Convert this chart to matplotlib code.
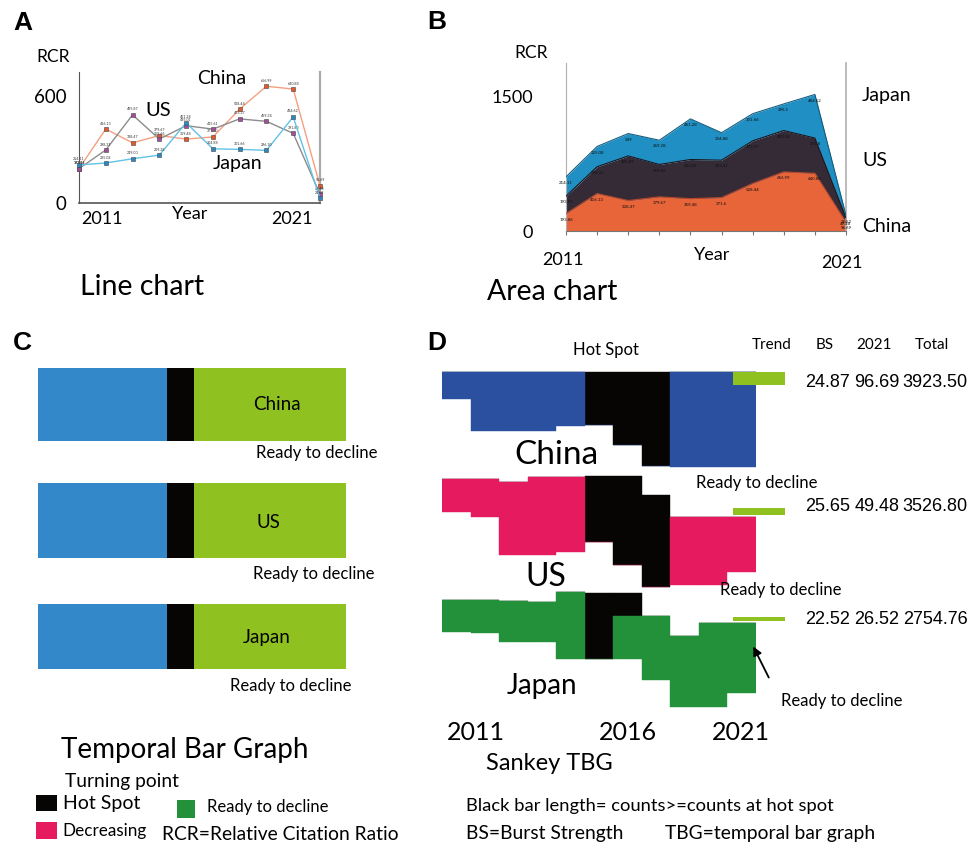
import matplotlib
matplotlib.use("Agg")
import matplotlib.pyplot as plt
from matplotlib.patches import Rectangle, FancyArrowPatch
import numpy as np

# ---------------------------------------------------------------- data
points = np.arange(10)                      # yearly observations, 2011 -> 2021
rcr_china = [193.86, 416.13, 338.47, 379.67, 359.48, 371.60, 528.44, 656.99, 640.88, 96.69]
rcr_us = [193.51, 298.31, 495.87, 359.66, 435.01, 415.61, 473.37, 459.34, 391.80, 49.48]
rcr_japan = [214.11, 225.08, 249.00, 269.28, 451.28, 304.88, 301.66, 296.10, 484.62, 26.52]

countries = ["China", "US", "Japan"]
burst_strength = [24.87, 25.65, 22.52]
rcr_2021 = [96.69, 49.48, 26.52]
rcr_total = [3923.50, 3526.80, 2754.76]

# temporal bar graph: years before hot spot, hot spot, after hot spot
tbg_before = [4.91, 4.91, 4.91]
tbg_hot = [1.0, 1.0, 1.0]
tbg_after = [5.76, 5.76, 5.76]

# Sankey TBG flows per year (upper edge, end of hot-spot part, lower edge)
sankey_years = np.arange(2011, 2022)
china_upper = [12, 12, 12, 12, 12, 12, 12, 12, 12, 12, 12]
china_hot_to = [12, 12, 12, 12, 12, 65, 85, 106, 12, 12, 12]
china_lower = [39, 71, 71, 71, 66, 65, 85, 106, 107, 107, 107]
us_upper = [119, 119, 122, 117, 117, 116, 116, 135, 157, 157, 157]
us_hot_to = [119, 119, 122, 117, 117, 182, 205, 227, 157, 157, 157]
us_lower = [152, 157, 195, 195, 192, 182, 205, 227, 225, 225, 212]
japan_upper = [240, 240, 241, 242, 232, 233, 233, 256, 276, 263, 263]
japan_hot_to = [240, 240, 241, 242, 232, 299, 256, 256, 276, 263, 263]
japan_lower = [272, 273, 282, 282, 299, 299, 299, 320, 347, 347, 333]
trend_top = [12, 148, 257]

# ---------------------------------------------------------------- figure
W, H = 974, 850
fig = plt.figure(figsize=(W / 100, H / 100), dpi=100)
plt.rcParams['font.family'] = ['Lato', 'DejaVu Sans']

C_ORANGE = '#e8653a'
C_DARK = '#352b36'
C_BLUE = '#1f8fc4'
C_TBG_BLUE = '#3288c8'
C_TBG_GREEN = '#8fc220'
C_BLACK = '#070404'
C_CHINA = '#2c50a0'
C_US = '#e61a5f'
C_JAPAN = '#22913a'


def box(x0, y0, x1, y1):
    return fig.add_axes([x0 / W, 1 - y1 / H, (x1 - x0) / W, (y1 - y0) / H])


def txt(x, y, s, size=11, ha='center', va='center', **kw):
    fig.text(x / W, 1 - y / H, s, fontsize=size, ha=ha, va=va, **kw)


def letter(x, y, s):
    txt(x, y, s, size=19, weight='bold', family=['Liberation Sans', 'DejaVu Sans'])


# ---------------------------------------------------------------- A: line chart
axA = box(79, 72, 320, 203)
axA.set_xlim(0, 9)
axA.set_ylim(0, 737)
line_styles = [(rcr_china, '#f4a080', '#e2582a'),
               (rcr_us, '#8c8c8c', '#a54d9c'),
               (rcr_japan, '#62c2e6', '#2a89c1')]
for vals, lc, mc in line_styles:
    axA.plot(points, vals, color=lc, lw=1.0, marker='s', ms=3.5,
             mfc=mc, mec='#444444', mew=0.4, clip_on=False, zorder=3)
    for xv, v in zip(points, vals):
        axA.annotate(f'{v:.2f}', (xv, v), xytext=(0, 2.5), textcoords='offset points',
                     fontsize=2.6, ha='center', va='bottom', color='#333333')
axA.spines['top'].set_visible(False)
axA.spines['left'].set_color('#555555')
axA.spines['left'].set_linewidth(0.8)
axA.spines['bottom'].set_color('#555555')
axA.spines['bottom'].set_linewidth(1.2)
axA.spines['right'].set_color('#aaaaaa')
axA.spines['right'].set_linewidth(1.6)
axA.set_yticks([0, 600])
axA.set_yticklabels(['0', '600'], fontsize=13.5)
axA.tick_params(axis='y', length=0, pad=9)
axA.set_xticks([0.86, 7.95])
axA.set_xticklabels(['2011', '2021'], fontsize=13)
axA.tick_params(axis='x', length=0, pad=6)

txt(53, 57, 'RCR', size=12.5)
txt(222, 78, 'China', size=14)
txt(158, 110, 'US', size=14.5)
txt(238, 163, 'Japan', size=14)
txt(190, 214, 'Year', size=13)
txt(80, 287, 'Line chart', size=20.5, ha='left')
letter(23, 23, 'A')

# ---------------------------------------------------------------- B: area chart
axB = box(566, 63, 846, 231)
axB.set_xlim(0, 9)
axB.set_ylim(0, 1867)
base = np.zeros(len(points))
for vals, fc, ec in [(rcr_china, C_ORANGE, '#b9482a'),
                     (rcr_us, C_DARK, '#1c161d'),
                     (rcr_japan, C_BLUE, '#155d7e')]:
    top = base + np.array(vals)
    axB.fill_between(points, base, top, color=fc, lw=0, zorder=2)
    axB.plot(points, top, color=ec, lw=0.8, zorder=3)
    for xv, t, v in zip(points, top, vals):
        axB.annotate(f'{v:.2f}'.rstrip('0').rstrip('.'), (xv, t), xytext=(0, -3),
                     textcoords='offset points', fontsize=3.2, ha='center', va='top',
                     color='#111111', zorder=4)
    base = top
axB.spines['top'].set_visible(False)
axB.spines['left'].set_color('#b0b0b0')
axB.spines['right'].set_color('#b0b0b0')
axB.spines['right'].set_linewidth(1.2)
axB.spines['bottom'].set_color('#777777')
axB.set_xticks(points)
axB.set_xticklabels([])
axB.tick_params(axis='x', length=3, color='#777777', direction='out')
axB.set_yticks([0, 1500])
axB.set_yticklabels(['0', '1500'], fontsize=13)
axB.tick_params(axis='y', length=0, pad=24)

txt(531, 53, 'RCR', size=12.5)
txt(563, 260, '2011', size=13)
txt(712, 255, 'Year', size=13)
txt(842, 263, '2021', size=13)
txt(862, 95, 'Japan', size=14, ha='left')
txt(862, 160, 'US', size=14, ha='left')
txt(862, 227, 'China', size=14, ha='left')
txt(487, 292, 'Area chart', size=20.5, ha='left')
letter(437, 22, 'B')

# ---------------------------------------------------------------- C: temporal bar graph
axC = box(37.7, 368, 345.7, 669.3)
rows = np.arange(len(countries))
row_h = [0.625, 0.64, 0.56]
axC.set_ylim(2.28, -0.313)
axC.set_xlim(0, tbg_before[0] + tbg_hot[0] + tbg_after[0])
axC.barh(rows, tbg_before, height=row_h, color=C_TBG_BLUE, lw=0)
axC.barh(rows, tbg_hot, left=tbg_before, height=row_h, color=C_BLACK, lw=0)
axC.barh(rows, tbg_after, left=np.add(tbg_before, tbg_hot), height=row_h,
         color=C_TBG_GREEN, lw=0)
axC.axis('off')

txt(277, 405, 'China', size=13.5)
txt(268, 523, 'US', size=13.5)
txt(267, 637, 'Japan', size=13.5)
txt(317, 453, 'Ready to decline', size=12)
txt(314, 574, 'Ready to decline', size=12)
txt(291, 686, 'Ready to decline', size=12)
txt(185, 750, 'Temporal Bar Graph', size=20)
letter(22, 343, 'C')

# legend for C
txt(65, 782, 'Turning point', size=13.8, ha='left')
fig.add_artist(Rectangle((36 / W, 1 - 811 / H), 21 / W, 16 / H, transform=fig.transFigure,
                         color=C_BLACK, lw=0))
txt(63, 803, 'Hot Spot', size=14, ha='left')
fig.add_artist(Rectangle((36 / W, 1 - 839 / H), 21 / W, 17 / H, transform=fig.transFigure,
                         color=C_US, lw=0))
txt(62, 831, 'Decreasing', size=12.3, ha='left')
fig.add_artist(Rectangle((177 / W, 1 - 818 / H), 18 / W, 18 / H, transform=fig.transFigure,
                         color=C_JAPAN, lw=0))
txt(207, 807, 'Ready to decline', size=12, ha='left')
txt(162, 835, 'RCR=Relative Citation Ratio', size=13.9, ha='left')

# ---------------------------------------------------------------- D: Sankey TBG
axD = box(442, 360, 756, 710)
axD.set_xlim(2010.5, 2021.5)
axD.set_ylim(350, 0)
for upper, hot_to, lower, col in [(china_upper, china_hot_to, china_lower, C_CHINA),
                                  (us_upper, us_hot_to, us_lower, C_US),
                                  (japan_upper, japan_hot_to, japan_lower, C_JAPAN)]:
    up = np.array(upper)
    ht = np.array(hot_to)
    lo = np.array(lower)
    axD.bar(sankey_years, ht - up, bottom=up, width=1.0, color=C_BLACK,
            edgecolor=C_BLACK, lw=0.3)
    axD.bar(sankey_years, lo - ht, bottom=ht, width=1.0, color=col,
            edgecolor=col, lw=0.3)

# trend bars: thickness follows the 2021 RCR
trend_scale = 0.135
for t, v in zip(trend_top, rcr_2021):
    h = v * trend_scale
    axD.barh(t + h / 2, 1.83, left=2020.69, height=h, color=C_TBG_GREEN,
             lw=0, clip_on=False, zorder=4)
axD.axis('off')

txt(606, 350, 'Hot Spot', size=12)
txt(772, 345, 'Trend', size=11)
txt(825, 345, 'BS', size=11)
txt(874, 345, '2021', size=11)
txt(932, 345, 'Total', size=11)
num_font = ['Liberation Sans', 'DejaVu Sans']
for yy, bs, v21, tot in zip([382, 506, 619], burst_strength, rcr_2021, rcr_total):
    txt(828, yy, f'{bs:.2f}', size=13, family=num_font)
    txt(877, yy, f'{v21:.2f}', size=13, family=num_font)
    txt(935, yy, f'{tot:.2f}', size=13, family=num_font)

txt(556, 455, 'China', size=24)
txt(546, 577, 'US', size=23)
txt(542, 686, 'Japan', size=20)
txt(757, 483, 'Ready to decline', size=12)
txt(781, 590, 'Ready to decline', size=12)
txt(842, 701, 'Ready to decline', size=12)
fig.add_artist(FancyArrowPatch((770 / W, 1 - 680 / H), (752 / W, 1 - 644 / H),
                               transform=fig.transFigure, arrowstyle='-|>',
                               mutation_scale=13, color='black', lw=1.3))
txt(476, 732, '2011', size=18)
txt(628, 732, '2016', size=18)
txt(741, 732, '2021', size=18)
txt(549, 763, 'Sankey TBG', size=17)
txt(466, 806, 'Black bar length= counts>=counts at hot spot', size=13.2, ha='left')
txt(466, 833, 'BS=Burst Strength', size=13.9, ha='left')
txt(665, 833, 'TBG=temporal bar graph', size=13.9, ha='left')
letter(437, 343, 'D')

fig.savefig('out.png', dpi=100)
